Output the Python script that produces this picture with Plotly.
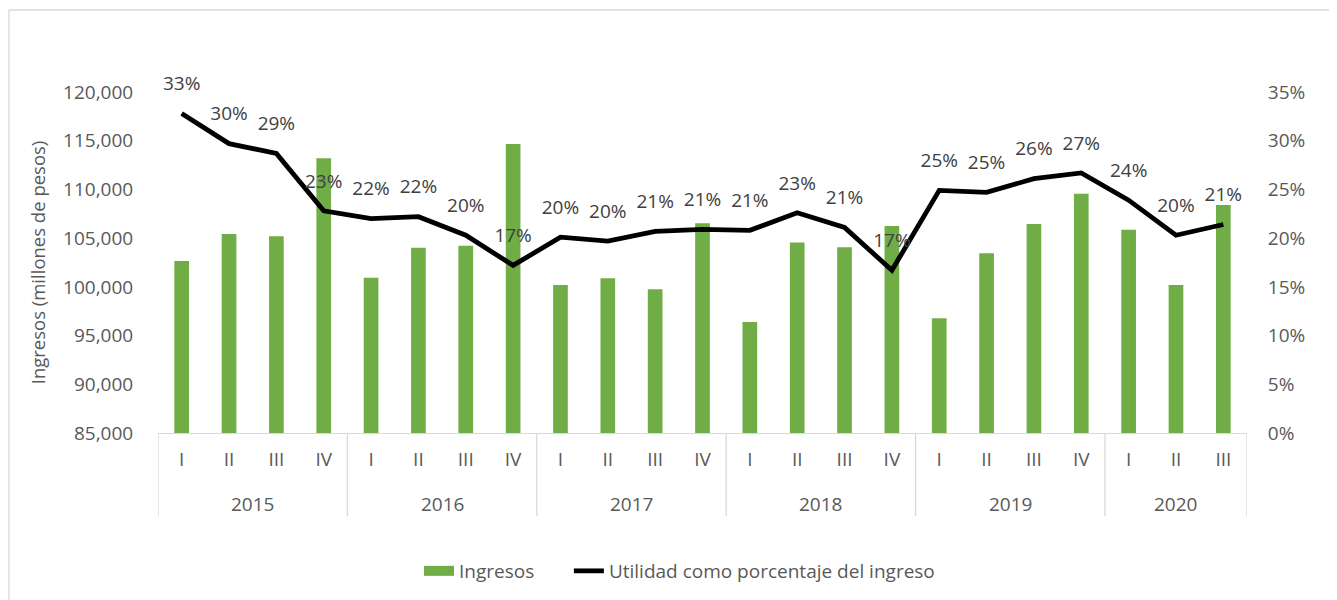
import plotly.graph_objects as go

years = ["2015"] * 4 + ["2016"] * 4 + ["2017"] * 4 + ["2018"] * 4 + ["2019"] * 4 + ["2020"] * 3
quarters = ["I", "II", "III", "IV"] * 5 + ["I", "II", "III"]

ingresos = [102650, 105420, 105200, 113200, 100940, 104020, 104230, 114660,
            100190, 100880, 99750, 106520, 96390, 104560, 104060, 106250,
            96770, 103440, 106450, 109560, 105860, 100190, 108400]

utilidad = [0.328, 0.297, 0.287, 0.228, 0.220, 0.222, 0.203, 0.172,
            0.201, 0.197, 0.207, 0.209, 0.208, 0.226, 0.211, 0.167,
            0.249, 0.247, 0.261, 0.267, 0.239, 0.203, 0.214]

y_ticks = [85000, 90000, 95000, 100000, 105000, 110000, 115000, 120000]
y2_ticks = [0, 0.05, 0.10, 0.15, 0.20, 0.25, 0.30, 0.35]

FONT = "Open Sans"
FS = 19
TICK_COLOR = "#595959"
LABEL_COLOR = "#404040"
GREEN = "#70ad47"
GRID = "#d9d9d9"

# unique category keys, shown with the quarter label
keys = [f"{y}-{q}" for y, q in zip(years, quarters)]

# year groups (derived from the data lists)
groups = []
for i, y in enumerate(years):
    if not groups or groups[-1][0] != y:
        groups.append([y, i, i])
    else:
        groups[-1][2] = i

fig = go.Figure()
fig.add_trace(go.Bar(
    x=keys, y=ingresos, name="Ingresos", showlegend=False,
    marker=dict(color=GREEN, line=dict(width=0)), yaxis="y",
))
# legend proxy for the bars (wide rectangle like the original)
fig.add_trace(go.Scatter(
    x=[None], y=[None], mode="lines", name="Ingresos" + "\u00a0" * 6,
    line=dict(color=GREEN, width=11), yaxis="y",
))
fig.add_trace(go.Scatter(
    x=keys, y=utilidad, name="Utilidad como porcentaje del ingreso", mode="lines",
    line=dict(color="black", width=4.8), yaxis="y2",
))
fig.add_trace(go.Scatter(
    x=keys, y=utilidad, mode="markers+text", showlegend=False,
    marker=dict(size=28, color="rgba(0,0,0,0)"),
    texttemplate="%{y:.0%}", textposition="top center", cliponaxis=False,
    textfont=dict(family=FONT, size=FS, color=LABEL_COLOR),
    yaxis="y2", hoverinfo="skip",
))

OFF = 8  # default body margin of the html page
W, H = 1337 - OFF, 600 - OFF
L, R, T, B = 158 - OFF, 90, 92 - OFF, 167
pw = W - L - R
ph = H - T - B


def px_x(p):
    return (p - OFF - L) / pw


def px_y(p):
    return (H - B - (p - OFF)) / ph


div_bottom = px_y(516)
shapes = [dict(type="rect", xref="paper", yref="paper",
               x0=px_x(9), x1=px_x(1345), y0=px_y(10), y1=px_y(605),
               line=dict(color=GRID, width=1.3), fillcolor="rgba(0,0,0,0)", layer="below")]
annotations = []
bounds = [g[1] - 0.5 for g in groups] + [groups[-1][2] + 0.5]
for b in bounds:
    shapes.append(dict(type="line", xref="x", yref="paper", x0=b, x1=b, y0=0, y1=div_bottom,
                       line=dict(color=GRID, width=1.3)))
for y, i0, i1 in groups:
    annotations.append(dict(text=y, xref="x", yref="paper", x=(i0 + i1) / 2, y=px_y(504),
                            yanchor="middle", xanchor="center", showarrow=False,
                            font=dict(family=FONT, size=FS, color=TICK_COLOR)))

fig.update_layout(
    width=W, height=H,
    margin=dict(l=L, r=R, t=T, b=B, autoexpand=False),
    paper_bgcolor="white", plot_bgcolor="white",
    font=dict(family=FONT, size=FS, color=TICK_COLOR),
    bargap=0.69,
    showlegend=True,
    shapes=shapes,
    annotations=annotations,
    legend=dict(orientation="h", xref="container", yref="container",
                x=(419 - OFF) / W, xanchor="left", y=(600 - 571) / H, yanchor="middle",
                font=dict(family=FONT, size=FS, color=TICK_COLOR),
                traceorder="normal"),
    xaxis=dict(
        type="category", range=[-0.5, len(keys) - 0.5],
        tickmode="array", tickvals=keys, ticktext=quarters,
        showline=True, linecolor=GRID, linewidth=1.3,
        showgrid=False, ticks="outside", ticklen=9, tickcolor="rgba(0,0,0,0)",
        tickfont=dict(family=FONT, size=FS, color=TICK_COLOR),
    ),
    yaxis=dict(
        range=[85000, 120000], tickvals=y_ticks, tickformat=",", showgrid=False,
        zeroline=False, showline=False, ticks="outside", ticklen=20,
        tickcolor="rgba(0,0,0,0)",
        tickfont=dict(family=FONT, size=FS, color=TICK_COLOR),
        title=dict(text="Ingresos (millones de pesos)", standoff=12,
                   font=dict(family=FONT, size=18.5, color=TICK_COLOR)),
    ),
    yaxis2=dict(
        range=[0, 0.35], tickvals=y2_ticks, tickformat=".0%", overlaying="y",
        side="right", showgrid=False, zeroline=False, showline=False,
        ticks="outside", ticklen=16, tickcolor="rgba(0,0,0,0)",
        tickfont=dict(family=FONT, size=FS, color=TICK_COLOR),
    ),
)

fig.write_html("out.html")
